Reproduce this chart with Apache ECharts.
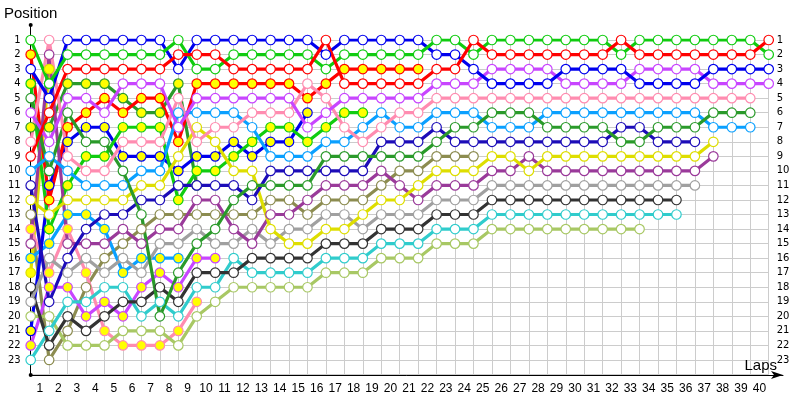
<!DOCTYPE html>
<html>
<head>
<meta charset="utf-8">
<title>Lap chart</title>
<script src="https://cdn.jsdelivr.net/npm/echarts@6/dist/echarts.min.js"></script>
<style>
  html, body { margin: 0; padding: 0; background: #fff; }
  #chart { width: 800px; height: 400px; }
</style>
</head>
<body>
<div id="chart"></div>
<script>
// position at the end of each lap, index 0 = starting grid; a car's array stops when it drops out
var redW    = [9,6,3,3,3,3,3,3,2,2,2,3,3,3,3,3,1,4,4,4,4,4,3,3,1,2,2,2,2,2,2,2,1,2,2,2,2,2,2,2,1]
var redY    = [2,12,7,6,5,6,5,5,8,4,4,4,4,4,4,5,4,3,3,3,3,3]
var greenW  = [1,4,2,2,2,2,2,2,1,3,3,2,2,2,2,2,3,2,2,2,2,2,1,1,2,1,1,1,1,1,1,1,2,1,1,1,1,1,1,1,2]
var greenY  = [4,14,11,9,9,7,7,7,12,10,10,9,8,7,7,8,7,6,6]
var blueW   = [3,5,1,1,1,1,1,1,3,1,1,1,1,1,1,1,2,1,1,1,1,1,2,2,3,4,4,4,4,3,3,3,3,4,4,4,4,3,3,3,3]
var blueY   = [21,11,8,7,7,9,9,9,10,9,9,8,9,8,8,6]
var violetW = [6,8,5,5,6,4,4,4,7,5,5,5,5,5,5,7,6,5,5,5,5,5,4,4,4,3,3,3,3,4,4,4,4,3,3,3,3,4,4,4,4]
var violetY = [22,18,18,20,19,20,18,17,18,16,16]
var pinkW   = [8,1,9,10,10,8,8,8,5,8,7,7,6,6,6,4,5,7,8,7,6,6,5,5,5,5,5,5,5,5,5,5,5,5,5,5,5,5,5,5]
var pinkY   = [14,17,14,17,21,22,22,22,21,19]
var dgreenW = [5,10,6,8,8,10,13,20,17,15,14,12,11,11,11,11,9,9,9,9,9,9,8,7,7,6,6,6,7,7,7,7,8,8,7,7,7,6,6,6]
var dgreenY = [7,7,4,4,4,5,6,6,4,11]
var skyW    = [10,9,10,11,11,11,10,10,6,6,6,6,7,9,9,9,8,8,7,6,7,7,6,6,6,7,7,7,6,6,6,6,6,6,6,6,6,7,7,7]
var skyY    = [16,15,13,13,14,17,16,16,16]
var navyW   = [11,19,16,14,13,13,12,12,11,11,11,11,12,10,10,10,10,10,10,8,8,8,7,8,8,8,8,8,8,8,8,8,7,7,8,8,8]
var yellowW = [12,13,12,12,12,12,11,11,9,7,8,10,10,14,15,15,14,14,13,12,12,11,10,10,10,9,9,10,9,9,9,9,9,9,9,9,9,8]
var yellowY = [17,3]
var purpleW = [15,2,15,15,15,14,15,14,14,12,12,14,15,13,13,12,11,11,11,10,11,12,11,11,11,10,10,9,10,10,10,10,10,10,10,10,10,9]
var greyW   = [19,16,17,16,17,16,17,15,15,14,15,15,14,15,14,14,13,13,14,13,13,13,12,12,12,11,11,11,11,11,11,11,11,11,11,11,11]
var blackW  = [18,22,20,21,20,19,19,18,19,17,17,17,16,16,16,16,15,15,15,14,14,14,13,13,13,12,12,12,12,12,12,12,12,12,12,12]
var cyanW   = [23,21,19,19,18,18,20,19,20,18,18,16,17,17,17,17,16,16,16,15,15,15,14,14,14,13,13,13,13,13,13,13,13,13,13,13]
var limeW   = [20,20,22,22,22,21,21,21,22,20,19,18,18,18,18,18,17,17,17,16,16,16,15,15,15,14,14,14,14,14,14,14,14,14]
var oliveW  = [13,23,21,18,16,15,14,13,13,13,13,13,13,12,12,13,12,12,12,11,10,10,9,9,9]

var lapLabels = ['1','2','3','4','5','6','7','8','9','10','11','12','13','14','15','16','17','18','19','20',
  '21','22','23','24','25','26','27','28','29','30','31','32','33','34','35','36','37','38','39','40']

var YELLOW = '#ffff00'
var WHITE = '#ffffff'
var cars = [
  { data: oliveW,  color: '#8c8c50', fill: WHITE },
  { data: yellowY, color: '#dede00', fill: YELLOW },
  { data: pinkY,   color: '#ff8cb0', fill: YELLOW },
  { data: dgreenY, color: '#2a9a2a', fill: YELLOW },
  { data: skyY,    color: '#0aa0ff', fill: YELLOW },
  { data: violetY, color: '#c845ff', fill: YELLOW },
  { data: blueY,   color: '#0000ee', fill: YELLOW },
  { data: greenY,  color: '#10cc10', fill: YELLOW },
  { data: redY,    color: '#ff0000', fill: YELLOW },
  { data: limeW,   color: '#a8c864', fill: WHITE },
  { data: cyanW,   color: '#30cccc', fill: WHITE },
  { data: blackW,  color: '#333333', fill: WHITE },
  { data: greyW,   color: '#a0a0a0', fill: WHITE },
  { data: purpleW, color: '#9a3a9a', fill: WHITE },
  { data: yellowW, color: '#dede00', fill: WHITE },
  { data: navyW,   color: '#1c0cb8', fill: WHITE },
  { data: skyW,    color: '#0aa0ff', fill: WHITE },
  { data: dgreenW, color: '#2a9a2a', fill: WHITE },
  { data: pinkW,   color: '#ff8cb0', fill: WHITE },
  { data: violetW, color: '#c845ff', fill: WHITE },
  { data: blueW,   color: '#0000ee', fill: WHITE },
  { data: greenW,  color: '#10cc10', fill: WHITE },
  { data: redW,    color: '#ff0000', fill: WHITE }
]

var chart = echarts.init(document.getElementById('chart'), null, { renderer: 'canvas' })

var series = cars.map(function (c) {
  var pts = []
  c.data.forEach(function (p, i) {
    if (p != null) pts.push([i, p])
  })
  return {
    type: 'line',
    xAxisIndex: 0,
    yAxisIndex: 0,
    data: pts,
    symbol: 'circle',
    symbolSize: 9.5,
    lineStyle: { color: c.color, width: 3.2, join: 'miter', miterLimit: 40 },
    itemStyle: { color: c.fill, borderColor: c.color, borderWidth: 1.2 },
    emphasis: { disabled: true },
    silent: true
  }
})

var option = {
  backgroundColor: '#fff',
  animation: false,
  grid: [
    { left: 30.7, right: 31.3, top: 40, bottom: 25.5 },
    { left: 30.7, right: 17, top: 25, bottom: 25 }
  ],
  xAxis: [
    {
      type: 'value', gridIndex: 0, min: 0, max: 40, interval: 1,
      axisLine: { show: false }, axisTick: { show: false }, axisLabel: { show: false },
      splitLine: { show: true, lineStyle: { color: '#cccccc', width: 1 } }
    },
    {
      type: 'category', gridIndex: 0, data: lapLabels, boundaryGap: true, position: 'bottom',
      axisLine: { show: false }, axisTick: { show: false }, splitLine: { show: false },
      axisLabel: { color: '#000', fontFamily: 'Liberation Sans', fontSize: 12, margin: 8 }
    },
    {
      type: 'value', gridIndex: 1, min: 0, max: 1,
      name: 'Laps', nameLocation: 'end', nameGap: 0,
      nameTextStyle: { color: '#000', fontFamily: 'Liberation Sans', fontSize: 15, align: 'right', verticalAlign: 'bottom', padding: [0, 6, 2, 0] },
      axisLine: { show: true, symbol: ['none', 'arrow'], symbolSize: [6, 12], lineStyle: { color: '#000', width: 1 } },
      axisTick: { show: false }, axisLabel: { show: false }, splitLine: { show: false }
    }
  ],
  yAxis: [
    {
      type: 'value', gridIndex: 0, min: 1, max: 24, interval: 1, inverse: true, position: 'left',
      axisLine: { show: false }, axisTick: { show: false },
      axisLabel: { color: '#000', fontFamily: 'DejaVu Sans', fontSize: 10, margin: 10,
        formatter: function (v) { return v > 23 ? '' : String(v) } },
      splitLine: { show: true, lineStyle: { color: '#cccccc', width: 1 } }
    },
    {
      type: 'value', gridIndex: 0, min: 1, max: 24, interval: 1, inverse: true, position: 'right',
      axisLine: { show: false }, axisTick: { show: false }, splitLine: { show: false },
      axisLabel: { color: '#000', fontFamily: 'DejaVu Sans', fontSize: 10, margin: 8,
        formatter: function (v) { return v > 23 ? '' : String(v) } }
    },
    {
      type: 'value', gridIndex: 1, min: 0, max: 1,
      name: 'Position', nameLocation: 'end', nameGap: 4,
      nameTextStyle: { color: '#000', fontFamily: 'Liberation Sans', fontSize: 15 },
      axisLine: { show: true, symbol: ['circle', 'circle'], symbolSize: [4, 4], lineStyle: { color: '#000', width: 1 } },
      axisTick: { show: false }, axisLabel: { show: false }, splitLine: { show: false }
    }
  ],
  series: series
}

chart.setOption(option)
</script>
</body>
</html>
